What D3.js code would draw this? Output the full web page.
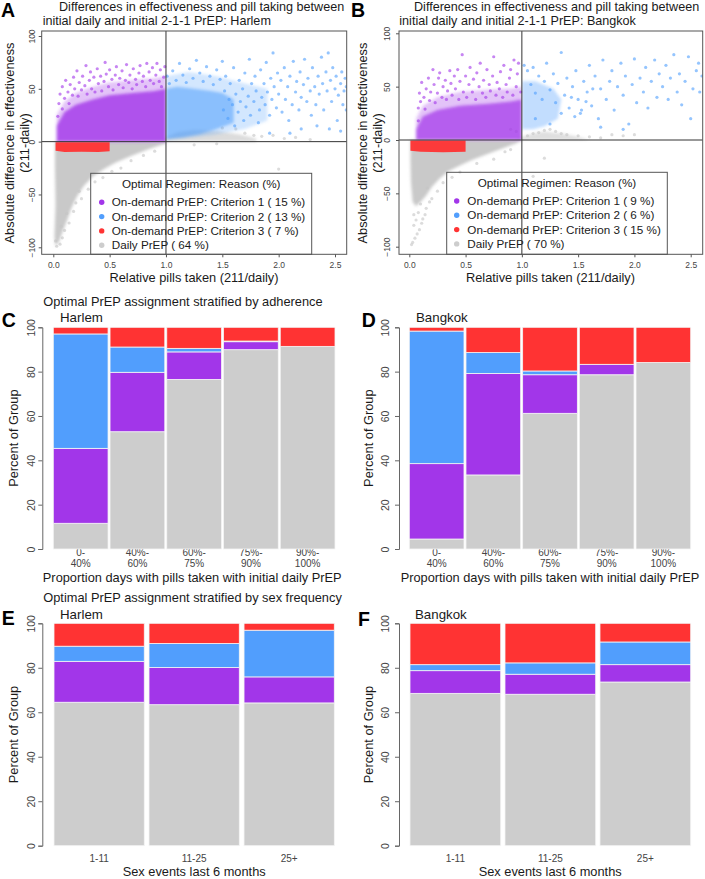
<!DOCTYPE html>
<html>
<head>
<meta charset="utf-8">
<script src="https://cdn.jsdelivr.net/npm/d3@7"></script>
<style>
body { margin: 0; background: #fff; }
svg text { font-family: "Liberation Sans", Arial, sans-serif; }
</style>
</head>
<body>
<svg id="fig" width="705" height="879"></svg>
<script>
// ---- data ----
const regimens = ["On-demand PrEP: Criterion 1", "On-demand PrEP: Criterion 2", "On-demand PrEP: Criterion 3", "Daily PrEP"];
const harlemPct = [15, 13, 7, 64];
const bangkokPct = [9, 6, 15, 70];
const colors = ["#a236e9", "#519efd", "#ff3333", "#cdcdcd"];

const xTicksScatter = [0, 0.5, 1, 1.5, 2, 2.5];
const yTicksScatter = [-100, -50, 0, 50, 100];
const yTicksBars = [0, 20, 40, 60, 80, 100];

// scatter clouds: dense regions traced as outlines (x, y), sparse points as pairs
const harlemDailyCloud = [[0.015,0],[1.0,0],[1.0,-1.5],[0.85,-7],[0.7,-13],[0.55,-20],[0.45,-26],[0.35,-33],[0.27,-42],[0.21,-52],[0.16,-63],[0.12,-75],[0.08,-86],[0.05,-95],[0.02,-99],[0.01,-90],[0.02,-60],[0.015,-25]];
const harlemDailyUpper = [[0.97,0],[1.0,4],[1.1,9],[1.25,11],[1.45,10],[1.65,7],[1.8,3],[1.8,0]];
const harlemDailyDots = [[1.62,12],[1.7,8],[1.78,6],[1.85,5],[1.95,6],[2.05,3],[2.15,4],[2.28,2],[1.5,13],[2.0,-26],[1.25,-3],[1.45,-2],[0.03,-99],[0.06,-97],[0.02,-94],[0.08,-91],[0.1,-84],[0.07,-80],[0.14,-77],[0.12,-68],[0.18,-66],[0.2,-58],[0.25,-54],[0.23,-47],[0.31,-45],[0.37,-38],[0.44,-34],[0.52,-28],[0.6,-25],[0.69,-18],[0.8,-13],[0.9,-9]];
const harlemC1Halo = [[0.03,0],[0.03,25],[0.1,38],[0.2,46],[0.35,52],[0.5,56],[0.7,58],[0.9,60],[1.0,62],[1.0,0]];
const harlemC1Cloud = [[0.03,0],[0.03,15],[0.1,28],[0.2,35],[0.35,40],[0.5,44],[0.7,46],[0.9,48],[1.0,50],[1.0,0]];
const harlemC1Dots = [[0.04,24],[0.05,36],[0.06,45],[0.08,52],[0.08,31],[0.1,41],[0.11,58],[0.13,47],[0.14,36],[0.15,54],[0.17,44],[0.18,61],[0.19,50],[0.21,67],[0.22,43],[0.23,56],[0.25,49],[0.26,62],[0.28,53],[0.29,72],[0.3,45],[0.32,58],[0.33,66],[0.34,50],[0.36,61],[0.37,47],[0.39,69],[0.4,55],[0.42,62],[0.43,48],[0.45,57],[0.46,75],[0.47,64],[0.49,52],[0.5,68],[0.52,59],[0.53,49],[0.55,63],[0.56,71],[0.58,54],[0.59,60],[0.61,67],[0.62,51],[0.64,58],[0.65,73],[0.67,56],[0.68,63],[0.7,50],[0.71,69],[0.73,59],[0.74,54],[0.76,65],[0.77,72],[0.79,57],[0.8,62],[0.82,52],[0.83,74],[0.85,66],[0.86,58],[0.88,70],[0.89,55],[0.91,63],[0.92,74],[0.94,57],[0.95,68],[0.96,52],[0.98,61],[0.99,71]];
const harlemC2Halo = [[1.0,2],[1.0,62],[1.2,66],[1.45,62],[1.7,55],[1.9,50],[1.9,20],[1.7,12],[1.4,6],[1.15,3]];
const harlemC2Cloud = [[1.0,2],[1.0,50],[1.1,52],[1.25,50],[1.4,48],[1.5,46],[1.6,40],[1.6,18],[1.45,12],[1.3,7],[1.15,4]];
const harlemC2Dots = [[1.01,62],[1.03,55],[1.06,67],[1.09,58],[1.12,74],[1.15,63],[1.18,56],[1.21,69],[1.24,60],[1.27,77],[1.3,65],[1.33,57],[1.36,71],[1.39,62],[1.42,54],[1.45,68],[1.48,59],[1.5,76],[1.51,30],[1.52,48],[1.53,62],[1.55,22],[1.56,40],[1.57,55],[1.59,35],[1.6,70],[1.61,15],[1.62,45],[1.64,28],[1.65,58],[1.66,38],[1.68,50],[1.69,20],[1.7,65],[1.71,33],[1.73,43],[1.74,78],[1.75,25],[1.76,55],[1.78,38],[1.79,62],[1.8,48],[1.82,18],[1.83,30],[1.84,68],[1.85,42],[1.87,55],[1.88,35],[1.89,75],[1.9,47],[1.92,25],[1.93,60],[1.94,40],[1.95,84],[1.96,52],[1.98,32],[1.99,65],[2.0,45],[2.02,58],[2.03,28],[2.05,70],[2.06,40],[2.08,52],[2.09,20],[2.1,62],[2.12,35],[2.13,76],[2.15,47],[2.16,57],[2.18,30],[2.19,66],[2.2,42],[2.22,54],[2.23,78],[2.25,38],[2.26,60],[2.28,48],[2.29,25],[2.3,70],[2.32,52],[2.33,35],[2.35,62],[2.36,45],[2.38,80],[2.39,55],[2.4,30],[2.42,66],[2.43,48],[2.44,84],[2.46,58],[2.47,38],[2.48,70],[2.5,50],[2.51,62],[2.52,20],[2.53,44],[2.55,55],[2.56,66],[2.57,35],[2.58,48],[2.59,60],[2.6,52],[2.45,12],[2.34,15],[2.2,12],[2.55,10],[2.6,30],[2.1,8],[1.92,8]];
const harlemC3Block = [[0.02,-0.5],[0.5,-0.5],[0.5,-9],[0.4,-9.8],[0.25,-9.5],[0.1,-9.8],[0.02,-8.5]];

const bangkokDailyCloud = [[0.01,0],[1.0,0],[0.95,-3],[0.85,-7],[0.7,-13],[0.55,-19],[0.45,-24],[0.35,-29],[0.27,-36],[0.2,-44],[0.15,-52],[0.1,-58],[0.06,-62],[0.03,-58],[0.015,-40],[0.01,-20]];
const bangkokDailyUpper = [[0.95,0],[1.0,3],[1.1,6],[1.2,8],[1.35,6],[1.5,3],[1.6,0]];
const bangkokDailyDots = [[0.02,-98],[0.03,-96],[0.05,-92],[0.07,-88],[0.09,-84],[0.11,-78],[0.12,-74],[0.14,-70],[0.06,-75],[0.04,-70],[0.08,-68],[0.15,-64],[0.18,-58],[0.2,-55],[0.1,-60],[0.25,-48],[0.3,-40],[0.38,-35],[0.45,-30],[0.04,-80],[0.16,-45],[0.6,-22],[0.75,-18],[0.85,-11],[0.9,-9],[1.05,4],[1.1,6],[1.15,7],[1.2,9],[1.25,10],[1.3,8],[1.35,6],[1.4,5],[1.5,4],[1.6,3],[1.7,2],[1.8,5],[1.9,4],[2.0,5],[0.95,8],[0.9,10],[1.1,-34],[1.2,-17]];
const bangkokC1Halo = [[0.06,0],[0.06,20],[0.12,32],[0.25,40],[0.45,45],[0.7,47],[0.9,48],[1.0,50],[1.0,0]];
const bangkokC1Cloud = [[0.06,0],[0.06,10],[0.12,22],[0.25,28],[0.45,32],[0.7,34],[0.9,36],[1.0,38],[1.0,0]];
const bangkokC1Dots = [[0.08,18],[0.08,30],[0.09,44],[0.1,36],[0.11,54],[0.13,40],[0.14,29],[0.15,48],[0.17,58],[0.18,37],[0.19,45],[0.21,66],[0.22,52],[0.23,35],[0.25,44],[0.26,58],[0.27,63],[0.29,40],[0.3,50],[0.32,56],[0.33,38],[0.34,46],[0.36,65],[0.37,53],[0.38,42],[0.4,60],[0.41,48],[0.43,66],[0.44,38],[0.45,55],[0.47,80],[0.48,45],[0.5,60],[0.51,40],[0.53,52],[0.54,68],[0.56,45],[0.57,57],[0.59,38],[0.6,63],[0.62,50],[0.63,72],[0.65,44],[0.66,56],[0.68,40],[0.69,66],[0.71,52],[0.72,46],[0.74,60],[0.75,78],[0.77,42],[0.78,54],[0.8,48],[0.81,64],[0.83,40],[0.84,70],[0.86,52],[0.87,45],[0.89,58],[0.9,66],[0.92,42],[0.93,75],[0.95,50],[0.96,62],[0.97,72],[0.99,45]];
const bangkokC2Cloud = [[1.0,10],[1.0,55],[1.12,55],[1.28,48],[1.35,38],[1.32,20],[1.2,13],[1.1,10]];
const bangkokC2Dots = [[1.02,70],[1.05,65],[1.08,52],[1.1,68],[1.12,44],[1.15,60],[1.18,38],[1.2,55],[1.22,72],[1.25,47],[1.28,62],[1.3,35],[1.32,53],[1.35,82],[1.38,42],[1.4,58],[1.42,30],[1.45,50],[1.48,65],[1.5,38],[1.52,25],[1.55,55],[1.58,45],[1.6,70],[1.62,32],[1.65,60],[1.68,20],[1.7,48],[1.72,75],[1.75,38],[1.78,55],[1.8,65],[1.82,28],[1.85,50],[1.88,72],[1.9,42],[1.92,60],[1.95,15],[1.98,52],[2.0,76],[2.02,35],[2.05,58],[2.08,45],[2.1,68],[2.12,30],[2.15,55],[2.18,75],[2.2,40],[2.22,62],[2.25,50],[2.28,70],[2.3,38],[2.32,58],[2.35,80],[2.38,45],[2.4,62],[2.42,33],[2.45,55],[2.48,78],[2.5,20],[2.52,48],[2.55,65],[2.58,45],[2.6,60],[2.57,72],[1.9,10],[1.7,12],[1.25,15],[1.12,20],[1.35,25],[1.44,40],[1.53,28],[1.57,36],[1.63,48],[1.47,22]];
const bangkokC3Block = [[0.01,-0.5],[0.5,-0.5],[0.5,-11],[0.3,-11.5],[0.1,-11],[0.01,-10]];

// bar charts (percent of group, bottom to top: daily, criterion 1, 2, 3)
const adherenceGroups = [["0-", "40%"], ["40%-", "60%"], ["60%-", "75%"], ["75%-", "90%"], ["90%-", "100%"]];
const adhHarlemDaily = [11.6, 52.9, 76.5, 89.9, 91.4];
const adhHarlemCrit1 = [33.8, 26.8, 12.4, 3.6, 0];
const adhHarlemCrit2 = [51.6, 11.4, 1.6, 0.3, 0];
const adhHarlemCrit3 = [3.0, 8.9, 9.5, 6.2, 8.6];
const adhBangkokDaily = [4.5, 33.4, 61.2, 78.6, 84.1];
const adhBangkokCrit1 = [34.0, 45.8, 17.4, 4.7, 0];
const adhBangkokCrit2 = [59.8, 9.4, 1.7, 0, 0];
const adhBangkokCrit3 = [1.7, 11.4, 19.7, 16.7, 15.9];

const sexGroups = ["1-11", "11-25", "25+"];
const sexHarlemDaily = [64.5, 63.4, 64.2];
const sexHarlemCrit1 = [18.4, 16.7, 11.7];
const sexHarlemCrit2 = [6.8, 10.8, 21.0];
const sexHarlemCrit3 = [10.3, 9.1, 3.1];
const sexBangkokDaily = [68.5, 68.1, 73.6];
const sexBangkokCrit1 = [10.2, 9.0, 7.8];
const sexBangkokCrit2 = [2.7, 5.1, 10.2];
const sexBangkokCrit3 = [18.6, 17.8, 8.4];

// ---- drawing ----
const fig = d3.select("#fig");
const TXT = "#1a1a1a", TICK = "#444", AXIS = "#666";

const defs = fig.append("defs");
defs.append("filter").attr("id", "soft").attr("x", "-20%").attr("y", "-20%").attr("width", "140%").attr("height", "140%")
  .append("feGaussianBlur").attr("stdDeviation", 1.8);

function label(x, y, s, size, opts) {
  opts = opts || {};
  const t = fig.append("text").attr("x", x).attr("y", y).attr("dy", "0.35em")
    .attr("font-size", size).attr("fill", opts.fill || TXT)
    .attr("text-anchor", opts.anchor || "start").text(s);
  if (opts.rotate) t.attr("transform", `rotate(-90,${x},${y})`);
  return t;
}

function letter(x, y, s) {
  fig.append("text").attr("x", x).attr("y", y).attr("font-size", 19.5)
    .attr("font-weight", "bold").attr("fill", "#000").text(s);
}

function drawScatter(p) {
  const x = d3.scaleLinear().domain([0, 2.5]).range(p.xr);
  const y = d3.scaleLinear().domain([-100, 100]).range(p.yr);
  const [bl, bt, br, bb] = p.box;
  const g = fig.append("g");
  const clip = (id, l, r) => {
    defs.append("clipPath").attr("id", id).append("rect")
      .attr("x", l).attr("y", bt).attr("width", r - l).attr("height", bb - bt);
    return `url(#${id})`;
  };
  const clipAll = clip("clip" + p.id, bl, br);
  const clipLeft = clip("clipL" + p.id, bl, x(1));
  const clipRight = clip("clipR" + p.id, x(1), br);
  const outline = d3.line().x(d => x(d[0])).y(d => y(d[1])).curve(d3.curveLinearClosed);

  p.layers.forEach(L => {
    const cp = L.side === "left" ? clipLeft : L.side === "right" ? clipRight : clipAll;
    const sg = g.append("g").attr("clip-path", cp).append("g");
    if (L.soft) sg.attr("filter", "url(#soft)");
    L.shapes.forEach(s => {
      sg.append("path").attr("d", outline(s[0])).attr("fill", L.color).attr("fill-opacity", s[1]);
    });
    g.append("g").attr("clip-path", clipAll).selectAll("circle").data(L.dots).join("circle")
      .attr("cx", d => x(d[0])).attr("cy", d => y(d[1])).attr("r", 1.6)
      .attr("fill", L.color).attr("fill-opacity", 0.6);
  });

  g.append("line").attr("x1", x(1)).attr("x2", x(1)).attr("y1", bt).attr("y2", bb)
    .attr("stroke", "#333").attr("stroke-width", 1);
  g.append("line").attr("x1", bl).attr("x2", br).attr("y1", y(0)).attr("y2", y(0))
    .attr("stroke", "#333").attr("stroke-width", 1);

  g.append("rect").attr("x", bl).attr("y", bt).attr("width", br - bl).attr("height", bb - bt)
    .attr("fill", "none").attr("stroke", "#555").attr("stroke-width", 1);

  const xa = g.append("g").attr("transform", `translate(0,${bb})`)
    .call(d3.axisBottom(x).tickValues(xTicksScatter).tickFormat(d3.format(".1f")).tickSize(3).tickPadding(5));
  xa.select(".domain").remove();
  xa.selectAll("line").attr("stroke", "#555");
  xa.selectAll("text").attr("font-size", 8.5).attr("fill", TICK).attr("font-family", null);

  const ya = g.append("g").attr("transform", `translate(${bl},0)`)
    .call(d3.axisLeft(y).tickValues(yTicksScatter).tickSize(3));
  ya.select(".domain").remove();
  ya.selectAll("line").attr("stroke", "#555");
  ya.selectAll("text").attr("font-size", 8.5).attr("fill", TICK).attr("font-family", null)
    .attr("x", 0).attr("dy", "0.35em").attr("text-anchor", "middle")
    .attr("transform", `translate(${p.yLabX - bl},0) rotate(-90)`);

  // legend (transparent box)
  const lg = p.legend;
  g.append("rect").attr("x", lg.left).attr("y", lg.top).attr("width", lg.right - lg.left).attr("height", bb - lg.top)
    .attr("fill", "none").attr("stroke", "#555").attr("stroke-width", 1);
  label((lg.left + lg.right) / 2, lg.titleY, "Optimal Regimen: Reason (%)", 11.7, { anchor: "middle" });
  regimens.forEach((r, i) => {
    const yy = lg.firstY + i * 14.3;
    g.append("circle").attr("cx", lg.markX).attr("cy", yy).attr("r", 2.7).attr("fill", colors[i]);
    label(lg.textX, yy, `${r} ( ${p.pct[i]} %)`, 11.7);
  });
}

drawScatter({
  id: "A", xr: [53.3, 335], yr: [247.3, 36], box: [41.7, 31, 346.7, 254.3], yLabX: 31.7, pct: harlemPct,
  legend: { left: 90.7, right: 311.7, top: 173.3, titleY: 184.3, firstY: 202.3, markX: 101.7, textX: 111.7 },
  layers: [
    { color: "#c4c4c4", soft: true, shapes: [[harlemDailyCloud, 0.92], [harlemDailyUpper, 0.6]], dots: harlemDailyDots },
    { color: "#a236e9", soft: true, side: "left", shapes: [[harlemC1Halo, 0.3], [harlemC1Cloud, 0.8]], dots: harlemC1Dots },
    { color: "#4f9efd", soft: true, side: "right", shapes: [[harlemC2Halo, 0.25], [harlemC2Cloud, 0.55]], dots: harlemC2Dots },
    { color: "#ff3333", soft: false, shapes: [[harlemC3Block, 0.95]], dots: [] }
  ]
});
drawScatter({
  id: "B", xr: [409.3, 690.7], yr: [246.7, 33.3], box: [399, 31, 702.7, 254.3], yLabX: 387, pct: bangkokPct,
  legend: { left: 446.7, right: 667.3, top: 172.3, titleY: 182.7, firstY: 201, markX: 456.7, textX: 467.3 },
  layers: [
    { color: "#c4c4c4", soft: true, shapes: [[bangkokDailyCloud, 0.92], [bangkokDailyUpper, 0.55]], dots: bangkokDailyDots },
    { color: "#a236e9", soft: true, side: "left", shapes: [[bangkokC1Halo, 0.3], [bangkokC1Cloud, 0.7]], dots: bangkokC1Dots },
    { color: "#4f9efd", soft: true, side: "right", shapes: [[bangkokC2Cloud, 0.35]], dots: bangkokC2Dots },
    { color: "#ff3333", soft: false, shapes: [[bangkokC3Block, 0.95]], dots: [] }
  ]
});

// scatter titles and axis titles
letter(1, 16.7, "A");
letter(351, 16.7, "B");
label(59, 6.5, "Differences in effectiveness and pill taking between", 12.6);
label(42.7, 20.7, "initial daily and initial 2-1-1 PrEP: Harlem", 12.6);
label(414, 6.5, "Differences in effectiveness and pill taking between", 12.6);
label(399.3, 20.7, "initial daily and initial 2-1-1 PrEP: Bangkok", 12.6);
label(194, 277.7, "Relative pills taken (211/daily)", 12.8, { anchor: "middle" });
label(550.5, 277.7, "Relative pills taken (211/daily)", 12.8, { anchor: "middle" });
label(9.5, 143, "Absolute difference in effectiveness", 12.8, { anchor: "middle", rotate: true });
label(24.5, 143, "(211-daily)", 12.8, { anchor: "middle", rotate: true });
label(362.5, 143, "Absolute difference in effectiveness", 12.8, { anchor: "middle", rotate: true });
label(377.5, 143, "(211-daily)", 12.8, { anchor: "middle", rotate: true });

function drawBars(p) {
  const keys = ["daily", "c1", "c2", "c3"];
  const rows = p.cats.map((c, i) => ({ cat: i, daily: p.series[0][i], c1: p.series[1][i], c2: p.series[2][i], c3: p.series[3][i] }));
  const x = d3.scaleBand().domain(rows.map(r => r.cat)).range(p.xr).paddingInner(p.pad).paddingOuter(0);
  const y = d3.scaleLinear().domain([0, 100]).range(p.yr);
  const g = fig.append("g");

  // category labels drawn first, bars sit over their tops
  rows.forEach((r, i) => {
    const lines = Array.isArray(p.cats[i]) ? p.cats[i] : [p.cats[i]];
    lines.forEach((s, j) => {
      g.append("text").attr("x", x(i) + x.bandwidth() / 2).attr("y", p.catY + j * 11).attr("dy", "0.35em")
        .attr("text-anchor", "middle").attr("font-size", 10).attr("fill", TICK).text(s);
    });
  });

  const stacked = d3.stack().keys(keys)(rows);
  stacked.forEach((layer, k) => {
    g.append("g").selectAll("rect").data(layer).join("rect")
      .attr("x", d => x(d.data.cat)).attr("width", x.bandwidth())
      .attr("y", d => y(d[1])).attr("height", d => y(d[0]) - y(d[1]))
      .attr("fill", colors[(k + 3) % 4])
      .attr("stroke", "#f4f4f4").attr("stroke-width", d => d[1] - d[0] > 0 ? 0.8 : 0);
  });

  const ya = g.append("g").attr("transform", `translate(${p.axisX},0)`)
    .call(d3.axisLeft(y).tickValues(yTicksBars).tickSize(4));
  ya.select(".domain").attr("stroke", AXIS);
  ya.selectAll("line").attr("stroke", AXIS);
  ya.selectAll("text").attr("font-size", 10.5).attr("fill", TICK).attr("font-family", null)
    .attr("x", 0).attr("dy", "0.35em").attr("text-anchor", "middle")
    .attr("transform", `translate(${p.yLabX - p.axisX},0) rotate(-90)`);
  label(p.yTitleX, (p.yr[0] + p.yr[1]) / 2, "Percent of Group", 12.8, { anchor: "middle", rotate: true });
}

drawBars({ cats: adherenceGroups, series: [adhHarlemDaily, adhHarlemCrit1, adhHarlemCrit2, adhHarlemCrit3],
  xr: [53.3, 335], pad: 0.035, yr: [549, 327.3], axisX: 42.3, yLabX: 31, yTitleX: 14, catY: 552.5 });
drawBars({ cats: adherenceGroups, series: [adhBangkokDaily, adhBangkokCrit1, adhBangkokCrit2, adhBangkokCrit3],
  xr: [409.3, 690.7], pad: 0.035, yr: [549, 327.3], axisX: 399, yLabX: 385, yTitleX: 369, catY: 552.5 });
drawBars({ cats: sexGroups, series: [sexHarlemDaily, sexHarlemCrit1, sexHarlemCrit2, sexHarlemCrit3],
  xr: [54, 334.3], pad: 0.05, yr: [845.7, 623.3], axisX: 42.3, yLabX: 31, yTitleX: 14, catY: 858.3 });
drawBars({ cats: sexGroups, series: [sexBangkokDaily, sexBangkokCrit1, sexBangkokCrit2, sexBangkokCrit3],
  xr: [410, 690.7], pad: 0.045, yr: [845.7, 623.3], axisX: 399, yLabX: 385, yTitleX: 369, catY: 858.3 });

letter(1.7, 326.7, "C");
letter(361.7, 326.7, "D");
letter(1.7, 625, "E");
letter(358, 626, "F");
label(43.3, 301.7, "Optimal PrEP assignment stratified by adherence", 12.8);
label(60, 317.7, "Harlem", 13.3);
label(416, 317.3, "Bangkok", 13.3);
label(192.2, 577.3, "Proportion days with pills taken with initial daily PrEP", 12.8, { anchor: "middle" });
label(550, 577.3, "Proportion days with pills taken with initial daily PrEP", 12.8, { anchor: "middle" });
label(43.3, 597.3, "Optimal PrEP assignment stratified by sex frequency", 12.8);
label(60, 614.3, "Harlem", 13.3);
label(415, 614.3, "Bangkok", 13.3);
label(194.2, 871.6, "Sex events last 6 months", 12.8, { anchor: "middle" });
label(550.2, 871.6, "Sex events last 6 months", 12.8, { anchor: "middle" });
</script>
</body>
</html>
